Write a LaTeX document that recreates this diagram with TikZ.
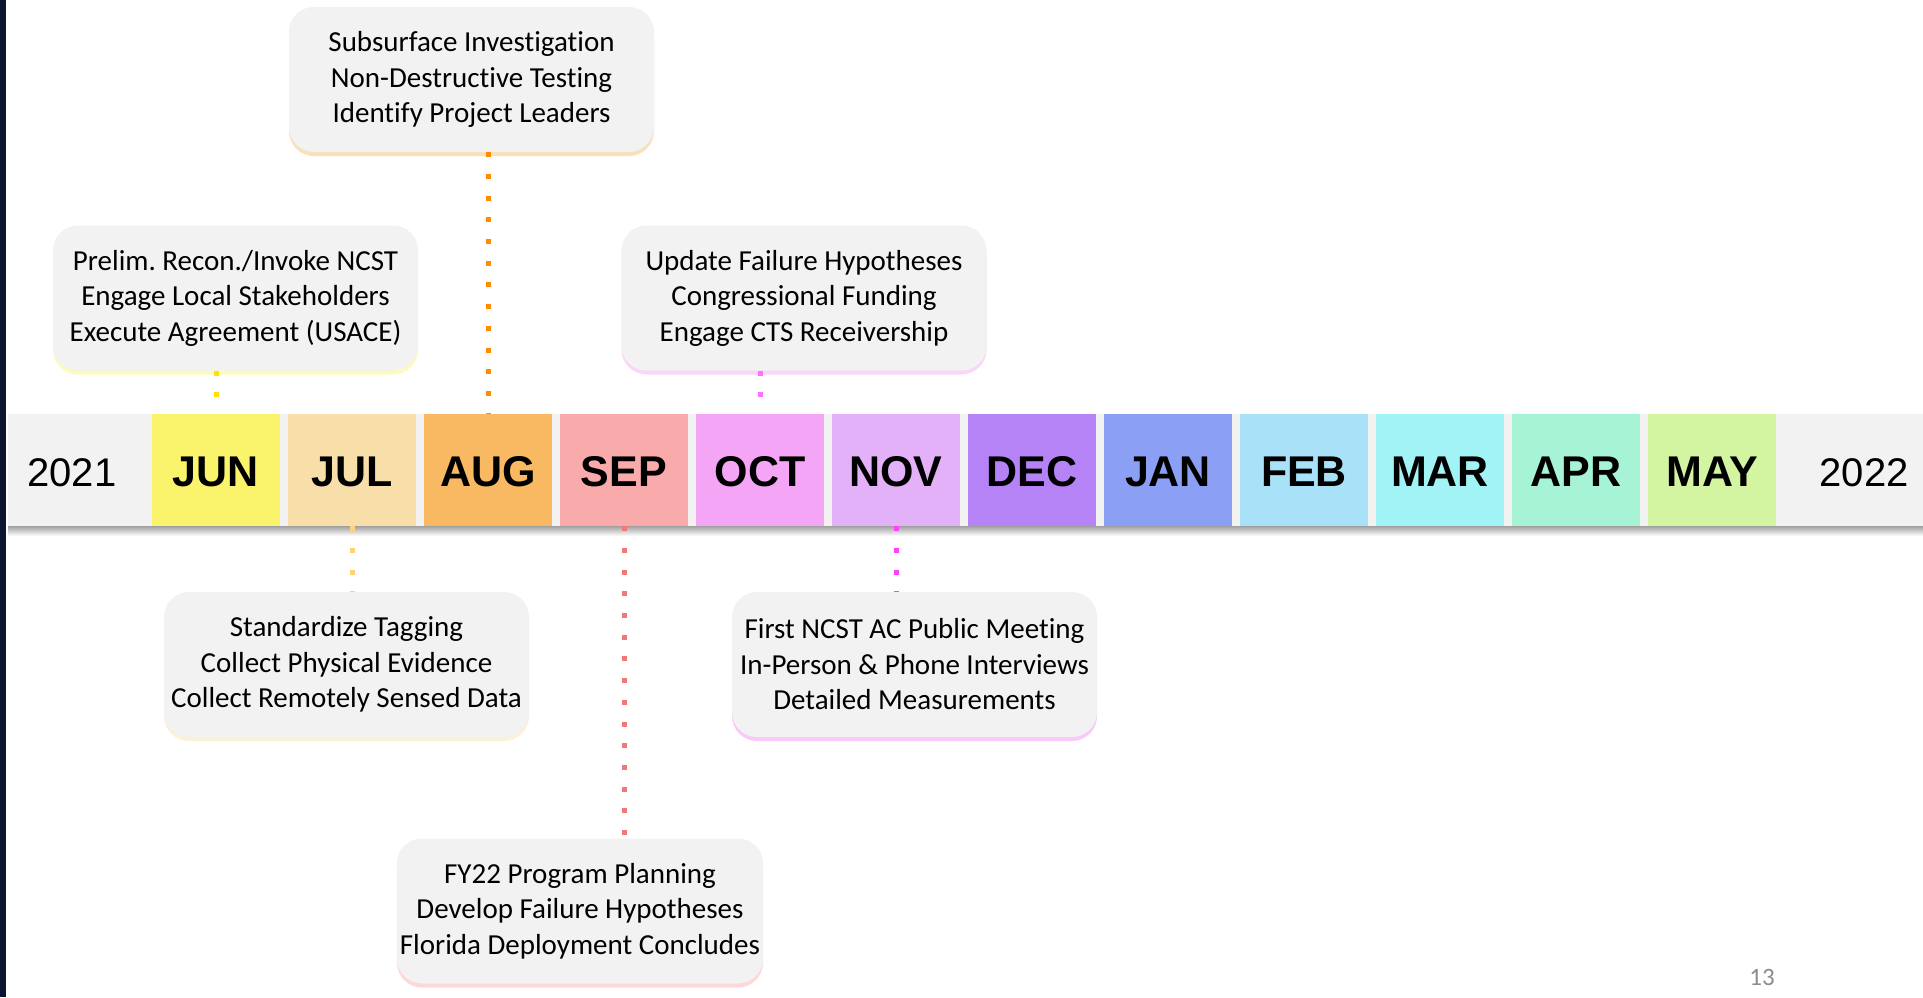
\documentclass[tikz,border=0pt]{standalone}
\usepackage{fontspec}
\setmainfont{Carlito}[Ligatures=NoCommon]
\newfontfamily\arialfont{Liberation Sans}
\usetikzlibrary{shadows}
\frenchspacing

\definecolor{barbg}{HTML}{F2F2F2}
\definecolor{boxbg}{HTML}{F2F2F2}
\definecolor{darkstrip}{HTML}{0C1430}
\definecolor{pagegray}{HTML}{8C8C8C}
\definecolor{junc}{HTML}{F9F46B}
\definecolor{julc}{HTML}{F8DFA9}
\definecolor{augc}{HTML}{F8B962}
\definecolor{sepc}{HTML}{F9AAAA}
\definecolor{octc}{HTML}{F5A5F5}
\definecolor{novc}{HTML}{E2B1F7}
\definecolor{decc}{HTML}{B683F7}
\definecolor{janc}{HTML}{8B9FF4}
\definecolor{febc}{HTML}{A8E1F8}
\definecolor{marc}{HTML}{A1F3F6}
\definecolor{aprc}{HTML}{A6F4D5}
\definecolor{mayc}{HTML}{D3F5A2}
\definecolor{jundot}{HTML}{FFE100}
\definecolor{juldot}{HTML}{FFD27A}
\definecolor{augdot}{HTML}{FF8C00}
\definecolor{sepdot}{HTML}{F07878}
\definecolor{octdot}{HTML}{FF70FF}
\definecolor{novdot}{HTML}{FF40FF}

\begin{document}
\begin{tikzpicture}[x=1pt,y=-1pt]

	\tikzstyle{bar} = [fill=barbg, minimum width=1915pt, minimum height=112pt, inner sep=0pt];
	\tikzstyle{month} = [minimum width=128pt, minimum height=112pt, inner sep=0pt, text depth=0pt, font=\arialfont\bfseries\fontsize{43}{50}\selectfont];
	\tikzstyle{year} = [inner sep=0pt, text depth=0pt, font=\arialfont\fontsize{40}{48}\selectfont];
	\tikzstyle{callout} = [fill=boxbg, rounded corners=25pt, minimum width=365pt, minimum height=145pt, inner sep=3pt, align=center, font=\fontsize{29}{35.5}\selectfont];
	\tikzstyle{conn} = [line width=5pt, dash pattern=on 5pt off 16.7pt];

	\fill[white] (0,0) rectangle (1923,997);
	\useasboundingbox (0,0) rectangle (1923,997);
	\fill[darkstrip] (0,0) rectangle (6,997);

	% timeline
	\shade[top color=black!45, bottom color=white] (8,524) rectangle (1923,536);
	\node[bar] (bar) at (965.5,470) {};
	\node[year] (y2021) at (72,473) {2021};
	\node[year] (y2022) at (1864,473) {2022};

	\node[month, fill=junc] (jun) at (216,470) {\raisebox{-3pt}{JUN}};
	\node[month, fill=julc, right of=jun, node distance=136pt] (jul) {\raisebox{-3pt}{JUL}};
	\node[month, fill=augc, right of=jul, node distance=136pt] (aug) {\raisebox{-3pt}{AUG}};
	\node[month, fill=sepc, right of=aug, node distance=136pt] (sep) {\raisebox{-3pt}{SEP}};
	\node[month, fill=octc, right of=sep, node distance=136pt] (oct) {\raisebox{-3pt}{OCT}};
	\node[month, fill=novc, right of=oct, node distance=136pt] (nov) {\raisebox{-3pt}{NOV}};
	\node[month, fill=decc, right of=nov, node distance=136pt] (dec) {\raisebox{-3pt}{DEC}};
	\node[month, fill=janc, right of=dec, node distance=136pt] (jan) {\raisebox{-3pt}{JAN}};
	\node[month, fill=febc, right of=jan, node distance=136pt] (feb) {\raisebox{-3pt}{FEB}};
	\node[month, fill=marc, right of=feb, node distance=136pt] (mar) {\raisebox{-3pt}{MAR}};
	\node[month, fill=aprc, right of=mar, node distance=136pt] (apr) {\raisebox{-3pt}{APR}};
	\node[month, fill=mayc, right of=apr, node distance=136pt] (may) {\raisebox{-3pt}{MAY}};

	% milestones above
	\node[callout, drop shadow={shadow xshift=0pt, shadow yshift=-4pt, fill=augc, opacity=0.45}] (survey) at (471.5,79.5) {Subsurface Investigation\\Non-Destructive Testing\\Identify Project Leaders};
	\node[callout, drop shadow={shadow xshift=0pt, shadow yshift=-4pt, fill=junc, opacity=0.45}] (recon) at (235.5,298) {Prelim. Recon./Invoke NCST\\Engage Local Stakeholders\\Execute Agreement (USACE)};
	\node[callout, drop shadow={shadow xshift=0pt, shadow yshift=-4pt, fill=octc, opacity=0.45}] (update) at (804,298) {Update Failure Hypotheses\\Congressional Funding\\Engage CTS Receivership};

	% milestones below
	\node[callout, drop shadow={shadow xshift=0pt, shadow yshift=-4pt, fill=julc, opacity=0.45}] (tagging) at (346.5,664.5) {Standardize Tagging\\Collect Physical Evidence\\Collect Remotely Sensed Data};
	\node[callout, drop shadow={shadow xshift=0pt, shadow yshift=-4pt, fill=sepc, opacity=0.45}] (planning) at (580,911) {FY22 Program Planning\\Develop Failure Hypotheses\\Florida Deployment Concludes};
	\node[callout, drop shadow={shadow xshift=0pt, shadow yshift=-4pt, fill=octc, opacity=0.6}] (meeting) at (914.5,664.5) {First NCST AC Public Meeting\\In-Person \& Phone Interviews\\Detailed Measurements};

	\draw[conn, jundot] (recon.south -| jun.north) -- (jun.north);
	\draw[conn, augdot] (survey.south -| aug.north) -- (aug.north);
	\draw[conn, octdot] (update.south -| oct.north) -- (oct.north);
	\draw[conn, juldot] (jul.south) -- (jul.south |- tagging.north);
	\draw[conn, sepdot] (sep.south) -- (sep.south |- planning.north);
	\draw[conn, novdot] (nov.south) -- (nov.south |- meeting.north);

	\node[font=\fontsize{25}{30}\selectfont, text=pagegray] (pagenum) at (1762,977) {13};

\end{tikzpicture}
\end{document}
